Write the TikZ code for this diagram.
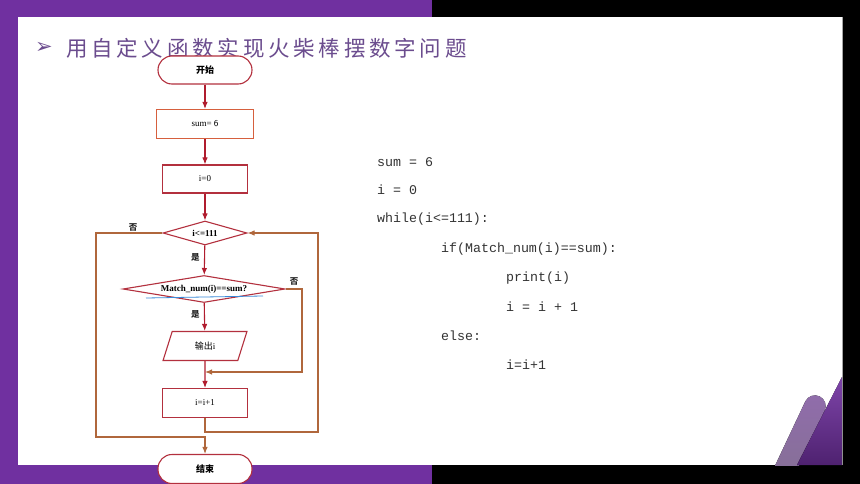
\documentclass[tikz,border=0pt]{standalone}
\usepackage{fontspec}
\setmainfont{Liberation Serif}
\newfontfamily\cjk{Noto Sans CJK SC}
\newfontfamily\symfont{DejaVu Sans}
\newfontfamily\codefont{Liberation Mono}
\usepackage{tikz}
\usetikzlibrary{arrows.meta, shapes.geometric}
\definecolor{slidepurple}{HTML}{7030A0}
\definecolor{titlepurple}{HTML}{6B4C8E}
\definecolor{nodered}{HTML}{B3303E}
\definecolor{sumorange}{HTML}{D6603E}
\definecolor{flowred}{HTML}{B01C2E}
\definecolor{loopbrown}{HTML}{B0673C}
\definecolor{markblue}{HTML}{3A8AD8}

\begin{document}
\begin{tikzpicture}[x=1pt, y=-1pt,
  >={Latex[length=7pt, width=5.5pt]},
  box/.style={draw=nodered, line width=1.1pt, fill=white, minimum width=85pt,
    minimum height=28pt, font=\fontsize{9}{10}\selectfont},
  term/.style={box, rounded corners=14pt, minimum width=94pt},
  decide/.style={box, diamond, inner sep=0pt},
  io/.style={box, trapezium, trapezium left angle=71, trapezium right angle=109,
    trapezium stretches=true, minimum width=84pt, minimum height=29pt, inner sep=0pt},
  flow/.style={->, draw=flowred, line width=1.1pt},
  loop/.style={->, draw=loopbrown, line width=1.1pt},
  tag/.style={font=\cjk\bfseries\fontsize{8.5}{9}\selectfont, text=black!85},
  code/.style={anchor=west, inner sep=0pt, font=\codefont\fontsize{13.3}{15}\selectfont, text=black!80}]
\useasboundingbox (0,0) rectangle (860,484);
% slide background
\fill[black] (0,0) rectangle (860,484);
\fill[slidepurple] (0,0) rectangle (432,484);
\fill[white] (18,17) rectangle (842,465);
\draw[gray!70, line width=0.6pt] (842,17) -- (842,465);
\begin{scope}
\clip (18,17) rectangle (842,465);
\fill[top color=slidepurple!70!gray!80, bottom color=gray!60!slidepurple!90]
  (773,470) -- (797,470) -- (824.5,410.9)
  arc[start angle=27, end angle=-153, radius=10.7] -- cycle;
\fill[top color=slidepurple!90!white, bottom color=slidepurple!70!black]
  (842,377) -- (842,465) -- (797,465) -- cycle;
\end{scope}
% title
\path
(44,48) node[text=titlepurple, font=\symfont\fontsize{21}{22}\selectfont]{➢};
\path
(66,48) node[anchor=west, inner sep=0pt, text=titlepurple,
  font=\cjk\fontsize{21.5}{24}\selectfont\addfontfeature{LetterSpace=17.5}]{用自定义函数实现火柴棒摆数字问题};
% flowchart
\node[term] (start) at (205,70) {\cjk\bfseries 开始};
\node[box, draw=sumorange, minimum width=97pt, minimum height=29pt] (sumset) at (205,124) {sum= {\sffamily 6}};
\node[box] (init) at (205,179) {i=0};
\node[decide, shape aspect=3.5, minimum width=84pt, minimum height=24pt] (cond) at (205,233) {\bfseries i<=111};
\node[decide, shape aspect=6, minimum width=162pt, minimum height=27pt] (match) at (204,289) {\bfseries Match\_num(i)==sum?};
\node[io] (out) at (205,346) {{\cjk 输出}i};
\node[box, minimum height=29pt] (incr) at (205,403) {i=i+1};
\node[term, minimum height=29pt] (stop) at (205,469) {\cjk\bfseries 结束};
\draw[markblue, line width=0.8pt] (146,298) -- (263,296);
\draw[flow] (start) -- (sumset);
\draw[flow] (sumset) -- (init);
\draw[flow] (init) -- (cond);
\draw[flow] (cond) -- (match) node[tag, pos=0.4, left=1pt]{是};
\draw[flow] (match) -- (out) node[tag, pos=0.4, left=1pt]{是};
\draw[flow] (out) -- (incr);
% branches and loop
\coordinate (skipR) at (302,372);
\coordinate (joinA) at (205,372);
\coordinate (loopR) at (318,432);
\coordinate (exitL) at (96,437);
\draw[loop] (match.east) -| (skipR) -- (joinA);
\draw[loop] (incr.south) |- (loopR) |- (cond.east);
\draw[loop] (cond.west) -| (exitL) -| (stop.north);
\path
(133,227) node[tag]{否};
\path
(294,281) node[tag]{否};
% code
\foreach \yy/\xx/\codeline in {162/377/{sum = 6}, 190/377/{i = 0},
  219/377/{while(i<=111):}, 249/441/{if(Match\_num(i)==sum):},
  278/506/{print(i)}, 307/506/{i = i + 1}, 336/441/{else:}, 365/506/{i=i+1}}
  \node[code] (line\yy) at (\xx,\yy) {\codeline};
\end{tikzpicture}
\end{document}
